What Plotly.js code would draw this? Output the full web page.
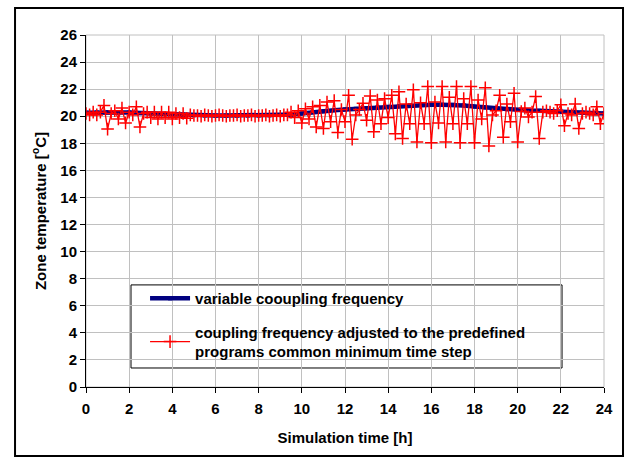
<!DOCTYPE html>
<html>
<head>
<meta charset="utf-8">
<script src="https://cdn.plot.ly/plotly-3.0.1.min.js"></script>
<style>
  html, body { margin: 0; padding: 0; background: #fff; }
  #chart { width: 626px; height: 464px; }
</style>
</head>
<body>
<div id="chart"></div>
<script>
// Series names
const seriesNames = [
  "variable coоupling frequency",
  "coupling frequency adjusted to the predefined<br>programs common minimum time step"
];

// Variable coupling frequency: zone temperature [°C], sampled every 0.5 h from 0 h
const variableStartHour = 0;
const variableStepHour = 0.5;
const variableTemp = [
  20.25, 20.28, 20.30, 20.28, 20.27, 20.22, 20.18, 20.15, 20.15, 20.12,
  20.07, 20.05, 20.05, 20.05, 20.05, 20.05, 20.05, 20.06, 20.08, 20.12,
  20.20, 20.30, 20.37, 20.45, 20.50, 20.55, 20.60, 20.65, 20.70, 20.75,
  20.80, 20.83, 20.85, 20.85, 20.85, 20.80, 20.72, 20.65, 20.58, 20.52,
  20.46, 20.42, 20.40, 20.37, 20.33, 20.30, 20.27, 20.23, 20.20
];

// Fixed coupling frequency: zone temperature [°C], sampled every 10 min from 0 h
const fixedStartHour = 0;
const fixedStepHour = 1 / 6;
const fixedTemp = [
  20.2, 20.1, 20.3, 20.1, 20.3, 20.8, 19.05, 20.2, 20.4, 19.8,
  20.6, 19.5, 20.3, 20.1, 20.7, 19.2, 20.2, 20.3, 19.9, 20.3,
  19.8, 20.3, 19.9, 20.3, 19.8, 20.2, 19.9, 20.2, 19.85, 20.1,
  20.05, 20.05, 20.0, 20.1, 20.05, 20.0, 20.05, 20.1, 20.05, 20.0,
  20.05, 20.05, 20.1, 20.0, 20.05, 20.05, 20.1, 20.0, 20.05, 20.05,
  20.1, 20.0, 20.05, 20.1, 20.0, 20.1, 20.1, 20.3, 19.9, 20.4,
  19.5, 20.55, 19.8, 20.7, 19.2, 20.8, 19.1, 21.05, 19.6, 21.15,
  18.8, 20.5, 19.6, 21.55, 18.3, 20.1, 20.5, 20.95, 19.7, 21.5,
  18.85, 21.2, 19.45, 21.3, 19.9, 21.55, 18.7, 21.8, 18.35, 20.9,
  19.45, 21.95, 18.1, 21.0, 19.45, 22.2, 18.05, 21.05, 19.5, 22.2,
  18.1, 21.4, 19.45, 22.2, 18.05, 21.3, 19.45, 22.2, 18.05, 21.2,
  19.8, 22.1, 17.8, 20.1, 20.4, 21.55, 18.45, 20.9, 19.6, 21.7,
  18.1, 20.35, 20.6, 19.95, 20.3, 21.45, 18.35, 20.3, 20.4, 20.3,
  20.2, 20.4, 20.85, 19.3, 20.2, 20.1, 20.9, 19.1, 20.2, 20.3,
  20.2, 20.1, 20.7, 19.45, 20.2
];

// Axis ticks
const xTicks = [0, 2, 4, 6, 8, 10, 12, 14, 16, 18, 20, 22, 24];
const yTicks = [0, 2, 4, 6, 8, 10, 12, 14, 16, 18, 20, 22, 24, 26];

const FONT = "Liberation Sans, Arial, sans-serif";

const traces = [
  {
    type: "scatter",
    mode: "lines+markers",
    name: seriesNames[0],
    legendgroup: "a",
    x0: variableStartHour,
    dx: variableStepHour,
    y: variableTemp,
    line: { color: "#000080", width: 4.5 },
    marker: { symbol: "square", size: 4, color: "#000080" }
  },
  {
    type: "scatter",
    mode: "lines+markers",
    name: seriesNames[1],
    legendgroup: "b",
    x0: fixedStartHour,
    dx: fixedStepHour,
    y: fixedTemp,
    line: { color: "#ff0000", width: 1.3 },
    marker: { symbol: "cross-thin", size: 9, color: "#ff0000", line: { color: "#ff0000", width: 1.5 } }
  }
];

const layout = {
  width: 626,
  height: 464,
  margin: { l: 86, r: 22, t: 35, b: 77, pad: 0 },
  paper_bgcolor: "#ffffff",
  plot_bgcolor: "#ffffff",
  font: { family: FONT, size: 15, color: "#000", weight: "bold" },
  showlegend: true,
  legend: {
    x: 0.114, y: 0.298, xanchor: "left", yanchor: "top",
    bgcolor: "rgba(0,0,0,0)",
    borderwidth: 0,
    traceorder: "grouped",
    tracegroupgap: 11,
    itemwidth: 40,
    font: { family: FONT, size: 15, color: "#000", weight: "bold" }
  },
  xaxis: {
    range: [0, 24],
    tickvals: xTicks,
    ticktext: xTicks.map(String),
    showgrid: true, gridcolor: "#c0c0c0", gridwidth: 1,
    zeroline: false,
    showline: true, linecolor: "#000", linewidth: 1,
    ticks: "outside", ticklen: 5, tickcolor: "#000", tickwidth: 1,
    ticklabelstandoff: 3,
    tickfont: { family: FONT, size: 15, color: "#000", weight: "bold" },
    title: { text: "Simulation time [h]", font: { family: FONT, size: 15, color: "#000", weight: "bold" }, standoff: 16 },
    fixedrange: true
  },
  yaxis: {
    range: [0, 26],
    tickvals: yTicks,
    ticktext: yTicks.map(String),
    showgrid: true, gridcolor: "#c0c0c0", gridwidth: 1,
    zeroline: false,
    showline: true, linecolor: "#000", linewidth: 1,
    ticks: "outside", ticklen: 5, tickcolor: "#000", tickwidth: 1,
    tickfont: { family: FONT, size: 15, color: "#000", weight: "bold" },
    title: { text: "Zone temperature [<sup>o</sup>C]", font: { family: FONT, size: 15, color: "#000", weight: "bold" }, standoff: 10 },
    fixedrange: true
  },
  shapes: [
    // grey plot-area frame (top/right)
    { type: "rect", xref: "paper", yref: "paper", x0: 0, x1: 1, y0: 0, y1: 1,
      line: { color: "#c0c0c0", width: 1 }, fillcolor: "rgba(0,0,0,0)", layer: "below" },
    // legend box
    { type: "rect", xref: "paper", yref: "paper", x0: 0.0869, x1: 0.919, y0: 0.054, y1: 0.29,
      line: { color: "#000", width: 1 }, fillcolor: "#ffffff", layer: "between" },
    // outer chart border
    { type: "rect", xref: "paper", yref: "paper", x0: -0.137, x1: 1.0367, y0: -0.196, y1: 1.0767,
      line: { color: "#000", width: 2 }, fillcolor: "rgba(0,0,0,0)", layer: "above" }
  ]
};

Plotly.newPlot("chart", traces, layout, { staticPlot: true, displayModeBar: false });
</script>
</body>
</html>
